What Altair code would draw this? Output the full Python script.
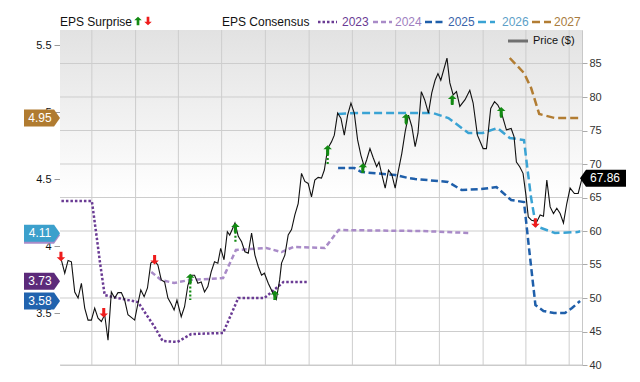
import altair as alt
import pandas as pd

FONT = "Liberation Sans"
W, H = 522, 335

# ---------------- data ----------------
price_dates = [
    "2022-07-28", "2022-08-05", "2022-08-12", "2022-08-19", "2022-08-26", "2022-09-02", "2022-09-09",
    "2022-09-16", "2022-09-23", "2022-09-30", "2022-10-07", "2022-10-14", "2022-10-21", "2022-10-28",
    "2022-11-04", "2022-11-11", "2022-11-18", "2022-11-25", "2022-12-02", "2022-12-09", "2022-12-16",
    "2022-12-23", "2022-12-30", "2023-01-06", "2023-01-12", "2023-01-19", "2023-01-26", "2023-02-02",
    "2023-02-10", "2023-02-17", "2023-02-24", "2023-03-03", "2023-03-10", "2023-03-17", "2023-03-23",
    "2023-03-29", "2023-04-07", "2023-04-14", "2023-04-21", "2023-04-28", "2023-05-05", "2023-05-12",
    "2023-05-19", "2023-05-26", "2023-06-02", "2023-06-09", "2023-06-16", "2023-06-23", "2023-06-29",
    "2023-07-06", "2023-07-13", "2023-07-18", "2023-07-23", "2023-07-29", "2023-08-05", "2023-08-12",
    "2023-08-19", "2023-08-26", "2023-09-02", "2023-09-09", "2023-09-16", "2023-09-23", "2023-09-29",
    "2023-10-07", "2023-10-17", "2023-10-24", "2023-10-31", "2023-11-04", "2023-11-11", "2023-11-18",
    "2023-11-25", "2023-12-02", "2023-12-09", "2023-12-16", "2023-12-23", "2023-12-30", "2024-01-06",
    "2024-01-13", "2024-01-20", "2024-01-27", "2024-02-02", "2024-02-09", "2024-02-17", "2024-02-23",
    "2024-03-01", "2024-03-08", "2024-03-15", "2024-03-22", "2024-03-29", "2024-04-05", "2024-04-12",
    "2024-04-19", "2024-04-26", "2024-05-01", "2024-05-08", "2024-05-15", "2024-05-22", "2024-05-27",
    "2024-06-02", "2024-06-09", "2024-06-16", "2024-06-23", "2024-06-30", "2024-07-07", "2024-07-14",
    "2024-07-21", "2024-07-28", "2024-08-04", "2024-08-11", "2024-08-17", "2024-08-24", "2024-08-31",
    "2024-09-08", "2024-09-15", "2024-09-22", "2024-09-28", "2024-10-04", "2024-10-17", "2024-10-23",
    "2024-10-30", "2024-11-06", "2024-11-13", "2024-11-24", "2024-12-04", "2024-12-11", "2024-12-20",
    "2025-01-01", "2025-01-08", "2025-01-17", "2025-01-25", "2025-02-01", "2025-02-08", "2025-02-19",
    "2025-03-01", "2025-03-07", "2025-03-12", "2025-03-19", "2025-03-26", "2025-04-01", "2025-04-06",
    "2025-04-13", "2025-04-24", "2025-05-01", "2025-05-08", "2025-05-15", "2025-05-22", "2025-05-29",
    "2025-06-05", "2025-06-12", "2025-06-19", "2025-06-26", "2025-07-03", "2025-07-12", "2025-07-20",
    "2025-07-28",
]
price_values = [
    55.9, 53.7, 55.6, 55.4, 50.9, 50.0, 52.2,
    48.5, 46.7, 46.7, 48.5, 47.0, 46.5, 47.5,
    43.7, 50.9, 50.0, 50.8, 50.8, 49.7, 47.5,
    47.1, 46.7, 49.2, 51.2, 50.2, 51.5, 55.2,
    55.6, 54.9, 52.7, 52.4, 50.0, 49.1, 48.2,
    49.7, 47.2, 48.7, 51.9, 53.4, 53.4, 52.2,
    52.4, 50.9, 51.7, 53.9, 55.4, 55.2, 57.4,
    55.7, 59.9, 59.4, 60.2, 61.2, 59.2, 58.4,
    56.9, 56.7, 59.7, 56.4, 54.7, 53.4, 53.7,
    52.2, 50.7, 49.8, 52.7, 55.2, 56.4, 59.4,
    60.2, 62.4, 64.1, 68.6, 67.4, 67.1, 65.1,
    67.6, 68.0, 67.9, 69.1, 72.3, 73.3, 74.3,
    77.6, 76.8, 74.3, 77.3, 79.1, 77.6, 73.6,
    71.3, 69.6, 70.6, 72.3, 70.9, 69.6, 70.3,
    68.4, 66.4, 69.1, 68.4, 66.4, 69.1, 71.6,
    74.8, 77.3, 75.6, 72.6, 74.6, 80.8, 79.6,
    77.6, 80.6, 82.5, 83.5, 82.5, 85.8, 82.1,
    80.3, 80.8, 78.6, 79.6, 81.0, 79.1, 74.3,
    72.3, 72.3, 78.3, 79.3, 78.8, 77.8, 75.1,
    75.3, 74.1, 70.3, 69.6, 68.6, 65.4, 62.1,
    61.6, 61.4, 62.4, 62.2, 67.6, 63.6, 62.6,
    63.4, 62.6, 61.2, 64.1, 66.4, 65.6, 65.6,
    67.86,
]

eps_2023_dates = ["2022-07-29", "2022-10-01", "2022-10-12", "2022-10-18", "2022-10-28", "2022-11-13",
                  "2023-01-06", "2023-02-10", "2023-02-27", "2023-03-30", "2023-04-28", "2023-07-04",
                  "2023-08-05", "2023-09-29", "2023-11-08", "2023-12-30"]
eps_2023_values = [4.336, 4.336, 4.045, 3.88, 3.634, 3.62, 3.582, 3.396, 3.291, 3.284, 3.343, 3.351,
                   3.612, 3.612, 3.731, 3.731]

eps_2024_dates = ["2023-02-03", "2023-02-24", "2023-03-23", "2023-04-24", "2023-07-04", "2023-07-31",
                  "2023-10-03", "2023-11-04", "2023-11-29", "2024-02-03", "2024-03-03", "2024-08-24",
                  "2024-12-05"]
eps_2024_values = [3.806, 3.746, 3.724, 3.746, 3.761, 3.970, 3.985, 3.955, 3.993, 3.985, 4.119, 4.112,
                   4.097]

eps_2025_dates = ["2024-03-02", "2024-04-05", "2024-04-20", "2024-06-30", "2024-07-28", "2024-08-11",
                  "2024-10-19", "2024-11-17", "2024-12-28", "2025-01-29", "2025-03-01", "2025-03-28",
                  "2025-04-08", "2025-04-21", "2025-05-08", "2025-05-30", "2025-06-22", "2025-07-07",
                  "2025-07-24"]
eps_2025_values = [4.582, 4.582, 4.552, 4.530, 4.507, 4.500, 4.478, 4.418, 4.425, 4.440, 4.343, 4.328,
                   3.970, 3.560, 3.515, 3.500, 3.500, 3.537, 3.590]

eps_2026_dates = ["2024-03-02", "2024-04-12", "2024-09-17", "2024-10-20", "2024-12-01", "2024-12-31",
                  "2025-01-31", "2025-02-26", "2025-03-28", "2025-04-04", "2025-04-12", "2025-04-22",
                  "2025-06-01", "2025-07-19", "2025-07-24"]
eps_2026_values = [4.985, 4.993, 4.993, 4.955, 4.843, 4.843, 4.881, 4.806, 4.791, 4.582, 4.358, 4.149,
                   4.097, 4.104, 4.110]

eps_2027_dates = ["2025-02-26", "2025-03-28", "2025-04-12", "2025-04-29", "2025-06-01", "2025-07-24"]
eps_2027_values = [5.403, 5.291, 5.179, 4.985, 4.955, 4.955]

surprise_dates = ["2022-07-28", "2022-10-26", "2023-02-10", "2023-04-26", "2023-07-30", "2023-10-21",
                  "2024-02-09", "2024-04-23", "2024-07-23", "2024-10-28", "2025-02-08", "2025-04-21"]
surprise_dir = ["down", "down", "down", "up", "up", "up", "up", "up", "up", "up", "up", "down"]
surprise_head = [56.2, 47.8, 55.7, 52.9, 60.5, 50.4, 72.1, 69.4, 76.8, 79.6, 77.8, 61.2]
surprise_tail = [56.2, 47.8, 55.7, 49.7, 58.4, 49.7, 69.7, 68.7, 75.8, 78.8, 76.9, 61.2]

series_names = ["2023", "2024", "2025", "2026", "2027"]
series_colors = ["#6a3b94", "#a98bc8", "#1f5faa", "#3aa3d4", "#b27d33"]
series_text_colors = ["#6a3b94", "#a07fbf", "#3a64aa", "#5d9fc8", "#a97c40"]

tag_order = ["2024", "2027", "2026", "2023", "2025"]
tag_values = [4.080, 4.955, 4.095, 3.737, 3.590]
tag_texts = ["", "4.95", "4.11", "3.73", "3.58"]
tag_colors = ["#a98bc8", "#b07b30", "#3ca0cc", "#5c2a7a", "#2163ae"]

last_price = 67.86
last_price_text = "67.86"

x_ticks = ["2022-10-01", "2023-01-01", "2023-04-01", "2023-07-01", "2023-10-01", "2024-01-01",
           "2024-04-01", "2024-07-01", "2024-10-01", "2025-01-01", "2025-04-01", "2025-07-01"]
right_ticks = [40, 45, 50, 55, 60, 65, 70, 75, 80, 85]
left_ticks = [3.5, 4.0, 4.5, 5.0, 5.5]

# ---------------- scales ----------------
def dt(s):
    return alt.DateTime(year=int(s[0:4]), month=int(s[5:7]), date=int(s[8:10]), utc=True)

x_scale = alt.Scale(type="utc", domain=[dt("2022-07-26"), dt("2025-07-28")])
right_scale = alt.Scale(domain=[40, 90], nice=False, zero=False)
left_scale = alt.Scale(domain=[3.112, 5.612], nice=False, zero=False)

UP = "M0,-1L0.9,-0.15L0.32,-0.15L0.32,1L-0.32,1L-0.32,-0.15L-0.9,-0.15Z"
DOWN = "M0,1L0.9,0.15L0.32,0.15L0.32,-1L-0.32,-1L-0.32,0.15L-0.9,0.15Z"
TAG_R = "M-1,-0.47L0.67,-0.47L1,0L0.67,0.47L-1,0.47Z"
TAG_L = "M-1,0L-0.74,-0.37L1,-0.37L1,0.37L-0.74,0.37Z"

one = pd.DataFrame({"k": [0]})
layers = []

# background gradient
layers.append(
    alt.Chart(one).mark_rect(
        color=alt.Gradient(
            gradient="linear",
            stops=[alt.GradientStop(color="#e2e2e2", offset=0),
                   alt.GradientStop(color="#ffffff", offset=0.5),
                   alt.GradientStop(color="#ffffff", offset=1)],
            x1=0, x2=0, y1=0, y2=1)
    ).encode(x=alt.value(0), x2=alt.value(W), y=alt.value(0), y2=alt.value(H))
)

# grid lines
layers.append(
    alt.Chart(pd.DataFrame({"date": x_ticks})).mark_rule(color="#cdcdcd", strokeWidth=1)
    .encode(x=alt.X("date:T", scale=x_scale, axis=None))
)
layers.append(
    alt.Chart(pd.DataFrame({"v": right_ticks})).mark_rule(color="#cdcdcd", strokeWidth=1)
    .encode(y=alt.Y("v:Q", scale=right_scale, axis=None))
)

# EPS consensus lines
eps_data = [
    (eps_2023_dates, eps_2023_values, [2.5, 2]),
    (eps_2024_dates, eps_2024_values, [5, 3]),
    (eps_2025_dates, eps_2025_values, [7, 3.5]),
    (eps_2026_dates, eps_2026_values, [8, 4]),
    (eps_2027_dates, eps_2027_values, [8, 4]),
]
left_axis = alt.Axis(orient="left", values=left_ticks, format="~g", grid=False, domain=False,
                     tickSize=6, tickColor="#999999", labelFont=FONT, labelFontSize=11,
                     labelColor="#111111", labelPadding=3, title=None)
for i, (d, v, dash) in enumerate(eps_data):
    df = pd.DataFrame({"date": d, "eps": v})
    layers.append(
        alt.Chart(df).mark_line(color=series_colors[i], strokeWidth=2.5, strokeDash=dash)
        .encode(x=alt.X("date:T", scale=x_scale, axis=None),
                y=alt.Y("eps:Q", scale=left_scale, axis=left_axis if i == 0 else None))
    )

# price line
x_axis = alt.Axis(orient="bottom", values=[dt(s) for s in x_ticks],
                  labelExpr="utcFormat(datum.value, '%m') == '01' ? utcFormat(datum.value, '%Y') : utcFormat(datum.value, '%b')",
                  grid=False, domain=False, tickSize=4, tickColor="#c8c8c8", labelFont=FONT,
                  labelFontSize=11, labelColor="#222222", labelPadding=2, labelFlush=False, title=None)
right_axis = alt.Axis(orient="right", values=right_ticks, format="d", grid=False, domain=False,
                      tickSize=5, tickColor="#aaaaaa", labelFont=FONT, labelFontSize=11,
                      labelColor="#333333", labelPadding=2, title=None)
price_df = pd.DataFrame({"date": price_dates, "price": price_values})
layers.append(
    alt.Chart(price_df).mark_line(color="#111111", strokeWidth=1.1)
    .encode(x=alt.X("date:T", scale=x_scale, axis=x_axis),
            y=alt.Y("price:Q", scale=right_scale, axis=right_axis))
)

# surprise arrows
sdf = pd.DataFrame({"date": surprise_dates, "dir": surprise_dir, "head": surprise_head,
                    "tail": surprise_tail})
layers.append(
    alt.Chart(sdf).transform_filter("datum.dir == 'up'")
    .mark_rule(color="#138a13", strokeWidth=2.2, strokeDash=[2, 2])
    .encode(x=alt.X("date:T", scale=x_scale, axis=None),
            y=alt.Y("head:Q", scale=right_scale, axis=None), y2="tail:Q")
)
layers.append(
    alt.Chart(sdf).transform_filter("datum.dir == 'up'")
    .mark_point(shape=UP, size=90, filled=True, color="#138a13", opacity=1)
    .encode(x=alt.X("date:T", scale=x_scale, axis=None),
            y=alt.Y("head:Q", scale=right_scale, axis=None))
)
layers.append(
    alt.Chart(sdf).transform_filter("datum.dir == 'down'")
    .mark_point(shape=DOWN, size=90, filled=True, color="#ee1c1c", opacity=1)
    .encode(x=alt.X("date:T", scale=x_scale, axis=None),
            y=alt.Y("head:Q", scale=right_scale, axis=None))
)

# left value tags
for name, val, txt, col in zip(tag_order, tag_values, tag_texts, tag_colors):
    tdf = pd.DataFrame({"series": [name], "v": [val], "t": [txt]})
    layers.append(
        alt.Chart(tdf).mark_point(shape=TAG_R, size=1296, filled=True, color=col, opacity=1)
        .encode(x=alt.value(-18), y=alt.Y("v:Q", scale=left_scale, axis=None))
    )
    if txt:
        layers.append(
            alt.Chart(tdf).mark_text(font=FONT, fontSize=12, color="white", align="center",
                                     baseline="middle")
            .encode(x=alt.value(-20), y=alt.Y("v:Q", scale=left_scale, axis=None), text="t:N")
        )

# last price tag
pdf_last = pd.DataFrame({"p": [last_price], "t": [last_price_text]})
layers.append(
    alt.Chart(pdf_last).mark_point(shape=TAG_L, size=2116, filled=True, color="#000000", opacity=1)
    .encode(x=alt.value(W + 21), y=alt.Y("p:Q", scale=right_scale, axis=None))
)
layers.append(
    alt.Chart(pdf_last).mark_text(font=FONT, fontSize=12, color="white", align="center",
                                  baseline="middle")
    .encode(x=alt.value(W + 23), y=alt.Y("p:Q", scale=right_scale, axis=None), text="t:N")
)

# ---------------- legends ----------------
LY = -8
layers.append(
    alt.Chart(pd.DataFrame({"t": ["EPS Surprise"]})).mark_text(
        font=FONT, fontSize=12, color="#111111", align="left", baseline="middle")
    .encode(x=alt.value(0), y=alt.value(LY), text="t:N")
)
layers.append(
    alt.Chart(one).mark_point(shape=UP, size=70, filled=True, color="#138a13", opacity=1)
    .encode(x=alt.value(78), y=alt.value(LY - 1))
)
layers.append(
    alt.Chart(one).mark_point(shape=DOWN, size=70, filled=True, color="#ee1c1c", opacity=1)
    .encode(x=alt.value(88), y=alt.value(LY - 1))
)
layers.append(
    alt.Chart(pd.DataFrame({"t": ["EPS Consensus"]})).mark_text(
        font=FONT, fontSize=12, color="#111111", align="left", baseline="middle")
    .encode(x=alt.value(162), y=alt.value(LY), text="t:N")
)
sample_x = [(258, 277, 282), (313, 332, 335), (365, 385, 388), (418, 435, 442), (472, 491, 494)]
for i, (name, (a, b, tx)) in enumerate(zip(series_names, sample_x)):
    layers.append(
        alt.Chart(one).mark_rule(color=series_colors[i], strokeWidth=2.5, strokeDash=eps_data[i][2])
        .encode(x=alt.value(a), x2=alt.value(b), y=alt.value(LY))
    )
    layers.append(
        alt.Chart(pd.DataFrame({"t": [name]})).mark_text(
            font=FONT, fontSize=12, color=series_text_colors[i], align="left", baseline="middle")
        .encode(x=alt.value(tx), y=alt.value(LY), text="t:N")
    )

# price legend
layers.append(
    alt.Chart(one).mark_rule(color="#707070", strokeWidth=3)
    .encode(x=alt.value(448), x2=alt.value(468), y=alt.value(11))
)
layers.append(
    alt.Chart(pd.DataFrame({"t": ["Price ($)"]})).mark_text(
        font=FONT, fontSize=11, color="#111111", align="left", baseline="middle")
    .encode(x=alt.value(473), y=alt.value(11), text="t:N")
)

chart = alt.layer(*layers).resolve_scale(y="independent").properties(
    width=W, height=H,
    autosize=alt.AutoSizeParams(type="none"),
    padding={"left": 52, "top": 22, "right": 50, "bottom": 17},
).configure_view(stroke="#c8c8c8", strokeWidth=1)

chart.save("out.html", embed_options={"renderer": "svg", "actions": False})
